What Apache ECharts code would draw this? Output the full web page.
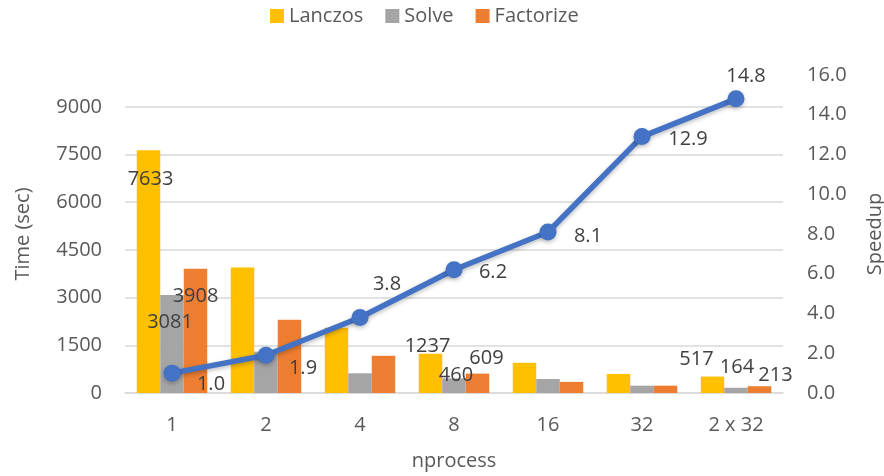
<!DOCTYPE html>
<html>
<head>
<meta charset="utf-8">
<title>Time and speedup vs nprocess</title>
<script src="https://cdn.jsdelivr.net/npm/echarts@6/dist/echarts.min.js"></script>
<style>
  html, body { margin: 0; padding: 0; background: #ffffff; }
  #chart { width: 884px; height: 476px; }
</style>
</head>
<body>
<div id="chart"></div>
<script>
// Categories (number of processes)
const categories = ['1', '2', '4', '8', '16', '32', '2 x 32'];

// Times in seconds per phase
const lanczos   = [7633, 3950, 2050, 1237, 950, 600, 517];
const solve     = [3081, 1300, 620, 460, 440, 230, 164];
const factorize = [3908, 2300, 1170, 609, 350, 230, 213];

// Overall speedup
const speedup = [1.0, 1.9, 3.8, 6.2, 8.1, 12.9, 14.8];

// Axis ticks
const timeTicks = { min: 0, max: 10000, step: 1500 };
const speedTicks = { min: 0, max: 16, step: 2 };

const FONT = 'Open Sans';
const TEXT = '#595959';
const LABEL = '#404040';

// Which bars carry a value label, and how each label is nudged
const barLabelNudge = {
  Lanczos:   { 0: [2, 44], 3: [-3, 8], 6: [-16, -2] },
  Solve:     { 0: [-2, 42], 3: [2, 12], 6: [1, -5] },
  Factorize: { 0: [0, 43], 3: [9, 0], 6: [16, 4] }
};
// Label offsets around the speedup markers
const speedLabelNudge = [[39, 11], [37, 13], [27, -33], [39, 3], [40, 4], [46, 3], [10, -23]];

function barData(name, values) {
  const nudge = barLabelNudge[name];
  return values.map((v, i) => {
    if (nudge[i]) {
      return { value: v, label: { show: true, position: 'top', distance: 5, offset: nudge[i] } };
    }
    return { value: v };
  });
}

function barSeries(name, values, color) {
  return {
    name: name,
    type: 'bar',
    yAxisIndex: 0,
    barGap: '0%',
    barCategoryGap: '25%',
    itemStyle: { color: color },
    label: {
      show: false,
      fontFamily: FONT, fontSize: 20, color: LABEL
    },
    data: barData(name, values),
    z: 2
  };
}

const chart = echarts.init(document.getElementById('chart'), null, { renderer: 'canvas' });

chart.setOption({
  animation: false,
  backgroundColor: '#ffffff',
  textStyle: { fontFamily: FONT, color: TEXT },
  legend: {
    data: ['Lanczos', 'Solve', 'Factorize'],
    top: 1,
    left: 265,
    icon: 'rect',
    itemWidth: 14,
    itemHeight: 14,
    itemGap: 22,
    textStyle: { fontFamily: FONT, fontSize: 20, color: TEXT }
  },
  grid: {
    left: 125, right: 101, top: 75, bottom: 83,
    containLabel: false,
    outerBoundsMode: 'none'
  },
  xAxis: {
    type: 'category',
    data: categories,
    name: 'nprocess',
    nameLocation: 'middle',
    nameGap: 58,
    nameTextStyle: { fontFamily: FONT, fontSize: 20, color: TEXT },
    axisLine: { show: true, lineStyle: { color: '#d9d9d9', width: 1.5 } },
    axisTick: { show: false },
    axisLabel: { fontFamily: FONT, fontSize: 20, color: TEXT, margin: 22 }
  },
  yAxis: [
    {
      type: 'value',
      min: timeTicks.min,
      max: timeTicks.max,
      interval: timeTicks.step,
      name: 'Time (sec)',
      nameLocation: 'middle',
      nameRotate: 90,
      nameGap: 92,
      nameTextStyle: { fontFamily: FONT, fontSize: 20, color: TEXT },
      axisLine: { show: false },
      axisTick: { show: false },
      axisLabel: {
        fontFamily: FONT, fontSize: 20, color: TEXT, margin: 23, showMaxLabel: false,
        formatter: v => String(v)
      },
      splitLine: { show: true, showMaxLine: false, lineStyle: { color: '#d9d9d9', width: 1.5 } }
    },
    {
      type: 'value',
      min: speedTicks.min,
      max: speedTicks.max,
      interval: speedTicks.step,
      name: 'Speedup',
      nameLocation: 'middle',
      nameRotate: 90,
      nameGap: 82,
      nameTextStyle: { fontFamily: FONT, fontSize: 20, color: TEXT },
      position: 'right',
      axisLine: { show: false },
      axisTick: { show: false },
      axisLabel: {
        fontFamily: FONT, fontSize: 20, color: TEXT, margin: 24,
        formatter: v => v.toFixed(1)
      },
      splitLine: { show: false }
    }
  ],
  series: [
    barSeries('Lanczos', lanczos, '#FFC000'),
    barSeries('Solve', solve, '#A5A5A5'),
    barSeries('Factorize', factorize, '#ED7D31'),
    {
      name: 'Speedup',
      type: 'line',
      yAxisIndex: 1,
      symbol: 'circle',
      symbolSize: 17,
      lineStyle: {
        color: '#4472C4', width: 5.5,
        shadowColor: 'rgba(0,0,0,0.25)', shadowBlur: 4, shadowOffsetY: 2
      },
      itemStyle: {
        color: '#4472C4',
        shadowColor: 'rgba(0,0,0,0.25)', shadowBlur: 4, shadowOffsetY: 2
      },
      label: {
        show: true,
        position: 'inside',
        fontFamily: FONT, fontSize: 20, color: LABEL,
        formatter: p => p.value.toFixed(1)
      },
      data: speedup.map((v, i) => ({ value: v, label: { offset: speedLabelNudge[i] } })),
      z: 5
    }
  ]
});
</script>
</body>
</html>
